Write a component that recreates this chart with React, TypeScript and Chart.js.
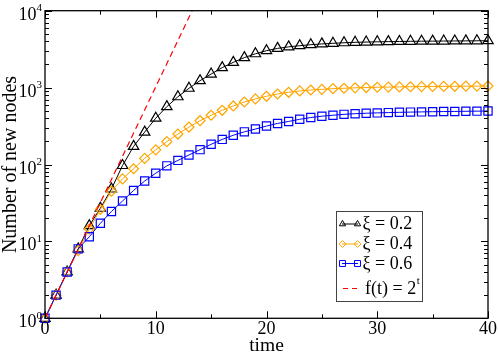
import React, { useEffect, useRef } from 'react';
import { Chart, registerables } from 'chart.js';

Chart.register(...registerables);

// time steps (x values)
const times = [
  0, 1, 2, 3, 4, 5, 6, 7, 8, 9, 10, 11, 12, 13, 14, 15, 16, 17, 18, 19, 20,
  21, 22, 23, 24, 25, 26, 27, 28, 29, 30, 31, 32, 33, 34, 35, 36, 37, 38, 39, 40,
];

// ξ = 0.2
const xi02 = [
  1, 2, 4, 8, 16, 27, 48, 97, 172, 264, 400, 565, 760, 980, 1230, 1500, 1820, 2130, 2455, 2754, 3020,
  3236, 3388, 3508, 3614, 3698, 3767, 3828, 3882, 3910, 3940, 3960, 3980, 4000, 4010, 4020, 4030, 4040, 4050, 4060, 4070,
];

// ξ = 0.4
const xi04 = [
  1, 2, 4, 7.6, 14.5, 26, 45, 65, 88, 120, 155, 198, 249, 307, 371, 437, 507, 577, 650, 712, 771,
  826, 869, 905, 931, 950, 968, 980, 993, 1002, 1010, 1016, 1021, 1026, 1030, 1034, 1037, 1040, 1043, 1046, 1050,
];

// ξ = 0.6
const xi06 = [
  1, 2, 4, 8, 11.5, 17.2, 24.5, 33.5, 46, 61, 77, 96, 113, 133, 156, 183, 212, 240, 266, 289, 316,
  342, 363, 387, 408, 425, 437, 449, 458, 464, 469, 473, 477, 480, 483, 486, 488, 490, 492, 494, 496,
];

// f(t) = 2^t (only the first points; the rest is outside the plot)
const powTimes = [0, 1, 2, 3, 4, 5, 6, 7, 8, 9, 10, 11, 12, 13, 14];
const powValues = [1, 2, 4, 8, 16, 32, 64, 128, 256, 512, 1024, 2048, 4096, 8192, 16384];

const xTicks = [0, 10, 20, 30, 40];
const xMinorTicks = [5, 15, 25, 35];
const yDecades = [1, 10, 100, 1000, 10000];
const yExponents = ['0', '1', '2', '3', '4'];
const legendLabels = ['ξ = 0.2', 'ξ = 0.4', 'ξ = 0.6', 'f(t) = 2'];

const SERIF = '"Liberation Serif", "Times New Roman", serif';

function toPoints(xs: number[], ys: number[]) {
  return ys.map((y, i) => ({ x: xs[i], y }));
}

function drawMarker(ctx: CanvasRenderingContext2D, style: string, x: number, y: number, r: number) {
  ctx.beginPath();
  if (style === 'triangle') {
    const h = r * Math.sqrt(3) / 2;
    ctx.moveTo(x, y - r);
    ctx.lineTo(x + h, y + r / 2);
    ctx.lineTo(x - h, y + r / 2);
    ctx.closePath();
  } else if (style === 'rectRot') {
    ctx.moveTo(x - r, y);
    ctx.lineTo(x, y - r);
    ctx.lineTo(x + r, y);
    ctx.lineTo(x, y + r);
    ctx.closePath();
  } else {
    const s = r * Math.SQRT1_2;
    ctx.rect(x - s, y - s, 2 * s, 2 * s);
  }
  ctx.stroke();
}

const framePlugin = {
  id: 'framePlugin',
  afterDraw(chart: any) {
    const ctx: CanvasRenderingContext2D = chart.ctx;
    const { left, right, top, bottom } = chart.chartArea;
    const xs = chart.scales.x;
    const ys = chart.scales.y;
    ctx.save();
    ctx.strokeStyle = '#000';
    ctx.lineWidth = 1.3;
    ctx.setLineDash([]);
    ctx.strokeRect(left, top, right - left, bottom - top);

    ctx.lineWidth = 1;
    // x ticks
    const xt = (t: number, len: number) => {
      const px = Math.round(xs.getPixelForValue(t)) + 0.5;
      ctx.beginPath();
      ctx.moveTo(px, bottom);
      ctx.lineTo(px, bottom - len);
      ctx.moveTo(px, top);
      ctx.lineTo(px, top + len);
      ctx.stroke();
    };
    xTicks.forEach((t) => xt(t, 7));
    xMinorTicks.forEach((t) => xt(t, 4));
    // y ticks
    const yt = (v: number, len: number) => {
      const py = Math.round(ys.getPixelForValue(v)) + 0.5;
      ctx.beginPath();
      ctx.moveTo(left, py);
      ctx.lineTo(left + len, py);
      ctx.moveTo(right, py);
      ctx.lineTo(right - len, py);
      ctx.stroke();
    };
    yDecades.forEach((d, i) => {
      yt(d, 7);
      if (i < yDecades.length - 1) {
        for (let m = 2; m <= 9; m++) yt(d * m, 4);
      }
    });

    // x labels
    ctx.fillStyle = '#000';
    ctx.font = `18px ${SERIF}`;
    ctx.textAlign = 'center';
    ctx.textBaseline = 'alphabetic';
    xTicks.forEach((t) => {
      ctx.fillText(String(t), xs.getPixelForValue(t), bottom + 15.3);
    });
    // y labels
    yDecades.forEach((d, i) => {
      const py = ys.getPixelForValue(d);
      ctx.font = `18px ${SERIF}`;
      ctx.textAlign = 'right';
      ctx.fillText('10', 36.5, py + 9);
      ctx.font = `11px ${SERIF}`;
      ctx.textAlign = 'left';
      ctx.fillText(yExponents[i], 36.5, py + 0.5);
    });

    // axis titles
    ctx.font = `19.5px ${SERIF}`;
    ctx.textAlign = 'center';
    ctx.fillText('time', (left + right) / 2, 350.5);
    ctx.save();
    ctx.translate(16, (top + bottom) / 2);
    ctx.rotate(-Math.PI / 2);
    ctx.font = `20px ${SERIF}`;
    ctx.fillText('Number of new nodes', 0, 0);
    ctx.restore();

    // legend
    const bx = 336, by = 211, bw = 86, bh = 90;
    ctx.fillStyle = '#fff';
    ctx.fillRect(bx, by, bw, bh);
    ctx.strokeStyle = '#444';
    ctx.lineWidth = 1;
    ctx.strokeRect(bx + 0.5, by + 0.5, bw, bh);

    const rows = [224, 244, 263.5];
    const colors = ['#000000', '#FFA500', '#0000FF'];
    const styles = ['triangle', 'rectRot', 'rect'];
    const radii = [3.6, 3.4, 4.2];
    rows.forEach((ry, i) => {
      ctx.strokeStyle = colors[i];
      ctx.lineWidth = 1;
      ctx.beginPath();
      ctx.moveTo(342, ry);
      ctx.lineTo(358, ry);
      ctx.stroke();
      drawMarker(ctx, styles[i], 342.5, ry, radii[i]);
      drawMarker(ctx, styles[i], 357.5, ry, radii[i]);
      ctx.fillStyle = '#000';
      ctx.font = `18px ${SERIF}`;
      ctx.textAlign = 'left';
      ctx.fillText(legendLabels[i], 362.5, ry + 5);
    });
    // red dashed entry
    ctx.strokeStyle = '#FF0000';
    ctx.lineWidth = 1;
    ctx.setLineDash([5, 4]);
    ctx.beginPath();
    ctx.moveTo(343, 288.5);
    ctx.lineTo(358.5, 288.5);
    ctx.stroke();
    ctx.setLineDash([]);
    ctx.fillStyle = '#000';
    ctx.font = `18px ${SERIF}`;
    ctx.fillText(legendLabels[3], 365, 293.5);
    const w = ctx.measureText(legendLabels[3]).width;
    ctx.font = `11px ${SERIF}`;
    ctx.fillText('t', 365 + w + 0.5, 284);
    ctx.restore();
  },
};

export default function App() {
  const ref = useRef<HTMLCanvasElement | null>(null);
  useEffect(() => {
    if (!ref.current) return;
    const chart = new Chart(ref.current, {
      type: 'line',
      data: {
        datasets: [
          {
            label: 'f(t) = 2^t',
            data: toPoints(powTimes, powValues),
            borderColor: '#FF0000',
            borderWidth: 1.2,
            borderDash: [6, 4],
            pointRadius: 0,
            fill: false,
            order: 0,
          },
          {
            label: 'ξ = 0.6',
            data: toPoints(times, xi06),
            borderColor: '#0000FF',
            backgroundColor: 'rgba(0,0,0,0)',
            borderWidth: 1,
            pointStyle: 'rect',
            pointRadius: 5.8,
            pointBorderWidth: 1.2,
            pointBorderColor: '#0000FF',
            pointBackgroundColor: 'rgba(0,0,0,0)',
            fill: false,
            clip: 8,
            order: 1,
          },
          {
            label: 'ξ = 0.4',
            data: toPoints(times, xi04),
            borderColor: '#FFA500',
            backgroundColor: 'rgba(0,0,0,0)',
            borderWidth: 1,
            pointStyle: 'rectRot',
            pointRadius: 5,
            pointBorderWidth: 1.2,
            pointBorderColor: '#FFA500',
            pointBackgroundColor: 'rgba(0,0,0,0)',
            fill: false,
            clip: 8,
            order: 2,
          },
          {
            label: 'ξ = 0.2',
            data: toPoints(times, xi02),
            borderColor: '#000000',
            backgroundColor: 'rgba(0,0,0,0)',
            borderWidth: 1,
            pointStyle: 'triangle',
            pointRadius: 6,
            pointBorderWidth: 1.2,
            pointBorderColor: '#000000',
            pointBackgroundColor: 'rgba(0,0,0,0)',
            fill: false,
            clip: 8,
            order: 3,
          },
        ],
      },
      options: {
        animation: false,
        responsive: false,
        devicePixelRatio: 1,
        layout: { padding: { left: 45, right: 10, top: 10.7, bottom: 33.7 } },
        scales: {
          x: { type: 'linear', min: 0, max: 40, display: false },
          y: { type: 'logarithmic', min: 1, max: 10000, display: false },
        },
        plugins: {
          legend: { display: false },
          tooltip: { enabled: false },
        },
        elements: { line: { tension: 0 } },
      },
      plugins: [framePlugin],
    });
    return () => chart.destroy();
  }, []);
  return (
    <div style={{ position: 'absolute', left: 0, top: 0, width: 498, height: 352, background: '#fff' }}>
      <canvas ref={ref} width={498} height={352} style={{ display: 'block' }} />
    </div>
  );
}
